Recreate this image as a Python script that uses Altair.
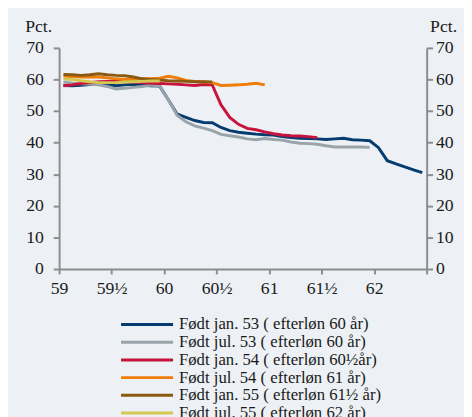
import altair as alt
import pandas as pd

series_names = [
    "Født jan. 53 ( efterløn 60 år)",
    "Født jul. 53 ( efterløn 60 år)",
    "Født jan. 54 ( efterløn 60½år)",
    "Født jul. 54 ( efterløn 61 år)",
    "Født jan. 55 ( efterløn 61½ år)",
    "Født jul. 55 ( efterløn 62 år)",
]
series_colors = ["#063b70", "#98a3aa", "#c8143c", "#ee7d0a", "#8a5a10", "#d3c952"]

jan53 = [58.1, 58.0, 58.2, 58.4, 58.5, 58.4, 58.0, 58.3, 58.5, 58.2, 58.0, 57.9,
         53.5, 49.0, 48.0, 47.0, 46.4, 46.3, 44.8, 43.8, 43.3, 43.0, 42.7, 42.5,
         42.4, 41.9, 41.6, 41.4, 41.3, 41.2, 41.0, 41.2, 41.4, 40.9, 40.8, 40.6,
         38.4, 34.3, 33.3, 32.3, 31.4, 30.5]
jul53 = [59.2, 58.8, 58.6, 58.5, 58.3, 57.8, 57.0, 57.2, 57.5, 57.8, 58.2, 58.0,
         53.5, 48.6, 46.6, 45.3, 44.6, 43.8, 42.6, 42.2, 41.8, 41.2, 40.9, 41.3,
         41.0, 40.8, 40.2, 39.8, 39.7, 39.5, 39.0, 38.6, 38.6, 38.6, 38.6, 38.5]
jan54 = [58.0, 58.3, 58.7, 59.0, 59.3, 59.4, 59.5, 59.3, 59.2, 59.0, 58.8, 58.7,
         58.6, 58.5, 58.3, 58.1, 58.4, 58.3, 52.0, 48.0, 45.8, 44.5, 44.1, 43.4,
         42.8, 42.4, 42.2, 42.1, 41.9, 41.6]
jul54 = [61.0, 60.9, 60.8, 60.8, 60.8, 60.5, 60.2, 60.0, 60.0, 60.2, 60.2, 60.4,
         61.0, 60.5, 59.7, 59.4, 59.2, 59.0, 58.1, 58.2, 58.3, 58.5, 58.8, 58.3]
jan55 = [61.6, 61.5, 61.3, 61.5, 61.8, 61.5, 61.3, 61.2, 60.8, 60.2, 60.0, 59.8,
         59.6, 59.5, 59.4, 59.3, 59.3, 59.2]
jul55 = [60.2, 60.0, 59.6, 59.3, 59.0, 59.0, 59.0, 59.2, 59.3, 59.4, 59.5, 59.5]

x_tick_values = [59, 59.5, 60, 60.5, 61, 61.5, 62, 62.5]
x_tick_labels = ["59", "59½", "60", "60½", "61", "61½", "62", ""]

rows = []
for name, vals in zip(series_names, [jan53, jul53, jan54, jul54, jan55, jul55]):
    for i, v in enumerate(vals):
        rows.append({"series": name, "age": 59 + (i + 0.5) / 12, "pct": v})
df = pd.DataFrame(rows)

FONT = "Liberation Serif"
TXT = "#1a1a1a"
AX = "#8c8c8c"

label_expr = "[" + ",".join("'%s'" % s for s in x_tick_labels) + "][indexof([" + \
    ",".join(str(v) for v in x_tick_values) + "], datum.value)]"

x_enc = alt.X(
    "age:Q",
    scale=alt.Scale(domain=[59, 62.5], nice=False, zero=False),
    axis=alt.Axis(values=x_tick_values, labelExpr=label_expr, title=None, grid=False,
                  tickSize=5, labelPadding=6, labelFont=FONT, labelFontSize=18,
                  labelColor=TXT, domainColor=AX, tickColor=AX, domainWidth=2,
                  tickWidth=2, labelFlush=False),
)

yscale = alt.Scale(domain=[0, 70], nice=False)

lines = alt.Chart(df).mark_line(strokeWidth=3).encode(
    x=x_enc,
    y=alt.Y("pct:Q", scale=yscale,
            axis=alt.Axis(orient="left", values=list(range(0, 71, 10)), grid=False,
                          title="Pct.", titleAngle=0, titleX=-35, titleY=-17,
                          titleAlign="left", titleBaseline="alphabetic",
                          titleFont=FONT, titleFontSize=18, titleFontWeight="normal",
                          titleColor=TXT, tickSize=6, labelPadding=10,
                          labelFont=FONT, labelFontSize=18, labelColor=TXT,
                          domainColor=AX, tickColor=AX, domainWidth=2, tickWidth=2)),
    color=alt.Color("series:N",
                    scale=alt.Scale(domain=series_names, range=series_colors),
                    legend=alt.Legend(title=None, orient="none", legendX=81, legendY=273,
                                      direction="vertical", symbolType="M-5,0H5",
                                      symbolSize=112, symbolStrokeWidth=3,
                                      labelFont=FONT, labelFontSize=17, labelColor=TXT,
                                      labelOffset=24, rowPadding=0, labelLimit=400)),
)

right = alt.Chart(df).mark_point(opacity=0).encode(
    y=alt.Y("pct:Q", scale=yscale,
            axis=alt.Axis(orient="right", values=list(range(0, 71, 10)), grid=False,
                          title="Pct.", titleAngle=0, titleX=3, titleY=-17,
                          titleAlign="left", titleBaseline="alphabetic",
                          titleFont=FONT, titleFontSize=18, titleFontWeight="normal",
                          titleColor=TXT, tickSize=6, labelPadding=3,
                          labelFont=FONT, labelFontSize=18, labelColor=TXT,
                          domainColor=AX, tickColor=AX, domainWidth=2, tickWidth=2)),
)

chart = alt.layer(lines, right).resolve_axis(y="independent").properties(
    width=374, height=225,
    autosize=alt.AutoSizeParams(type="none"),
    padding={"left": 52, "top": 37, "right": 38, "bottom": 147},
    background="#edf1f5",
).configure_view(stroke=None)

chart.save("out.html", embed_options={"renderer": "svg", "actions": False})
